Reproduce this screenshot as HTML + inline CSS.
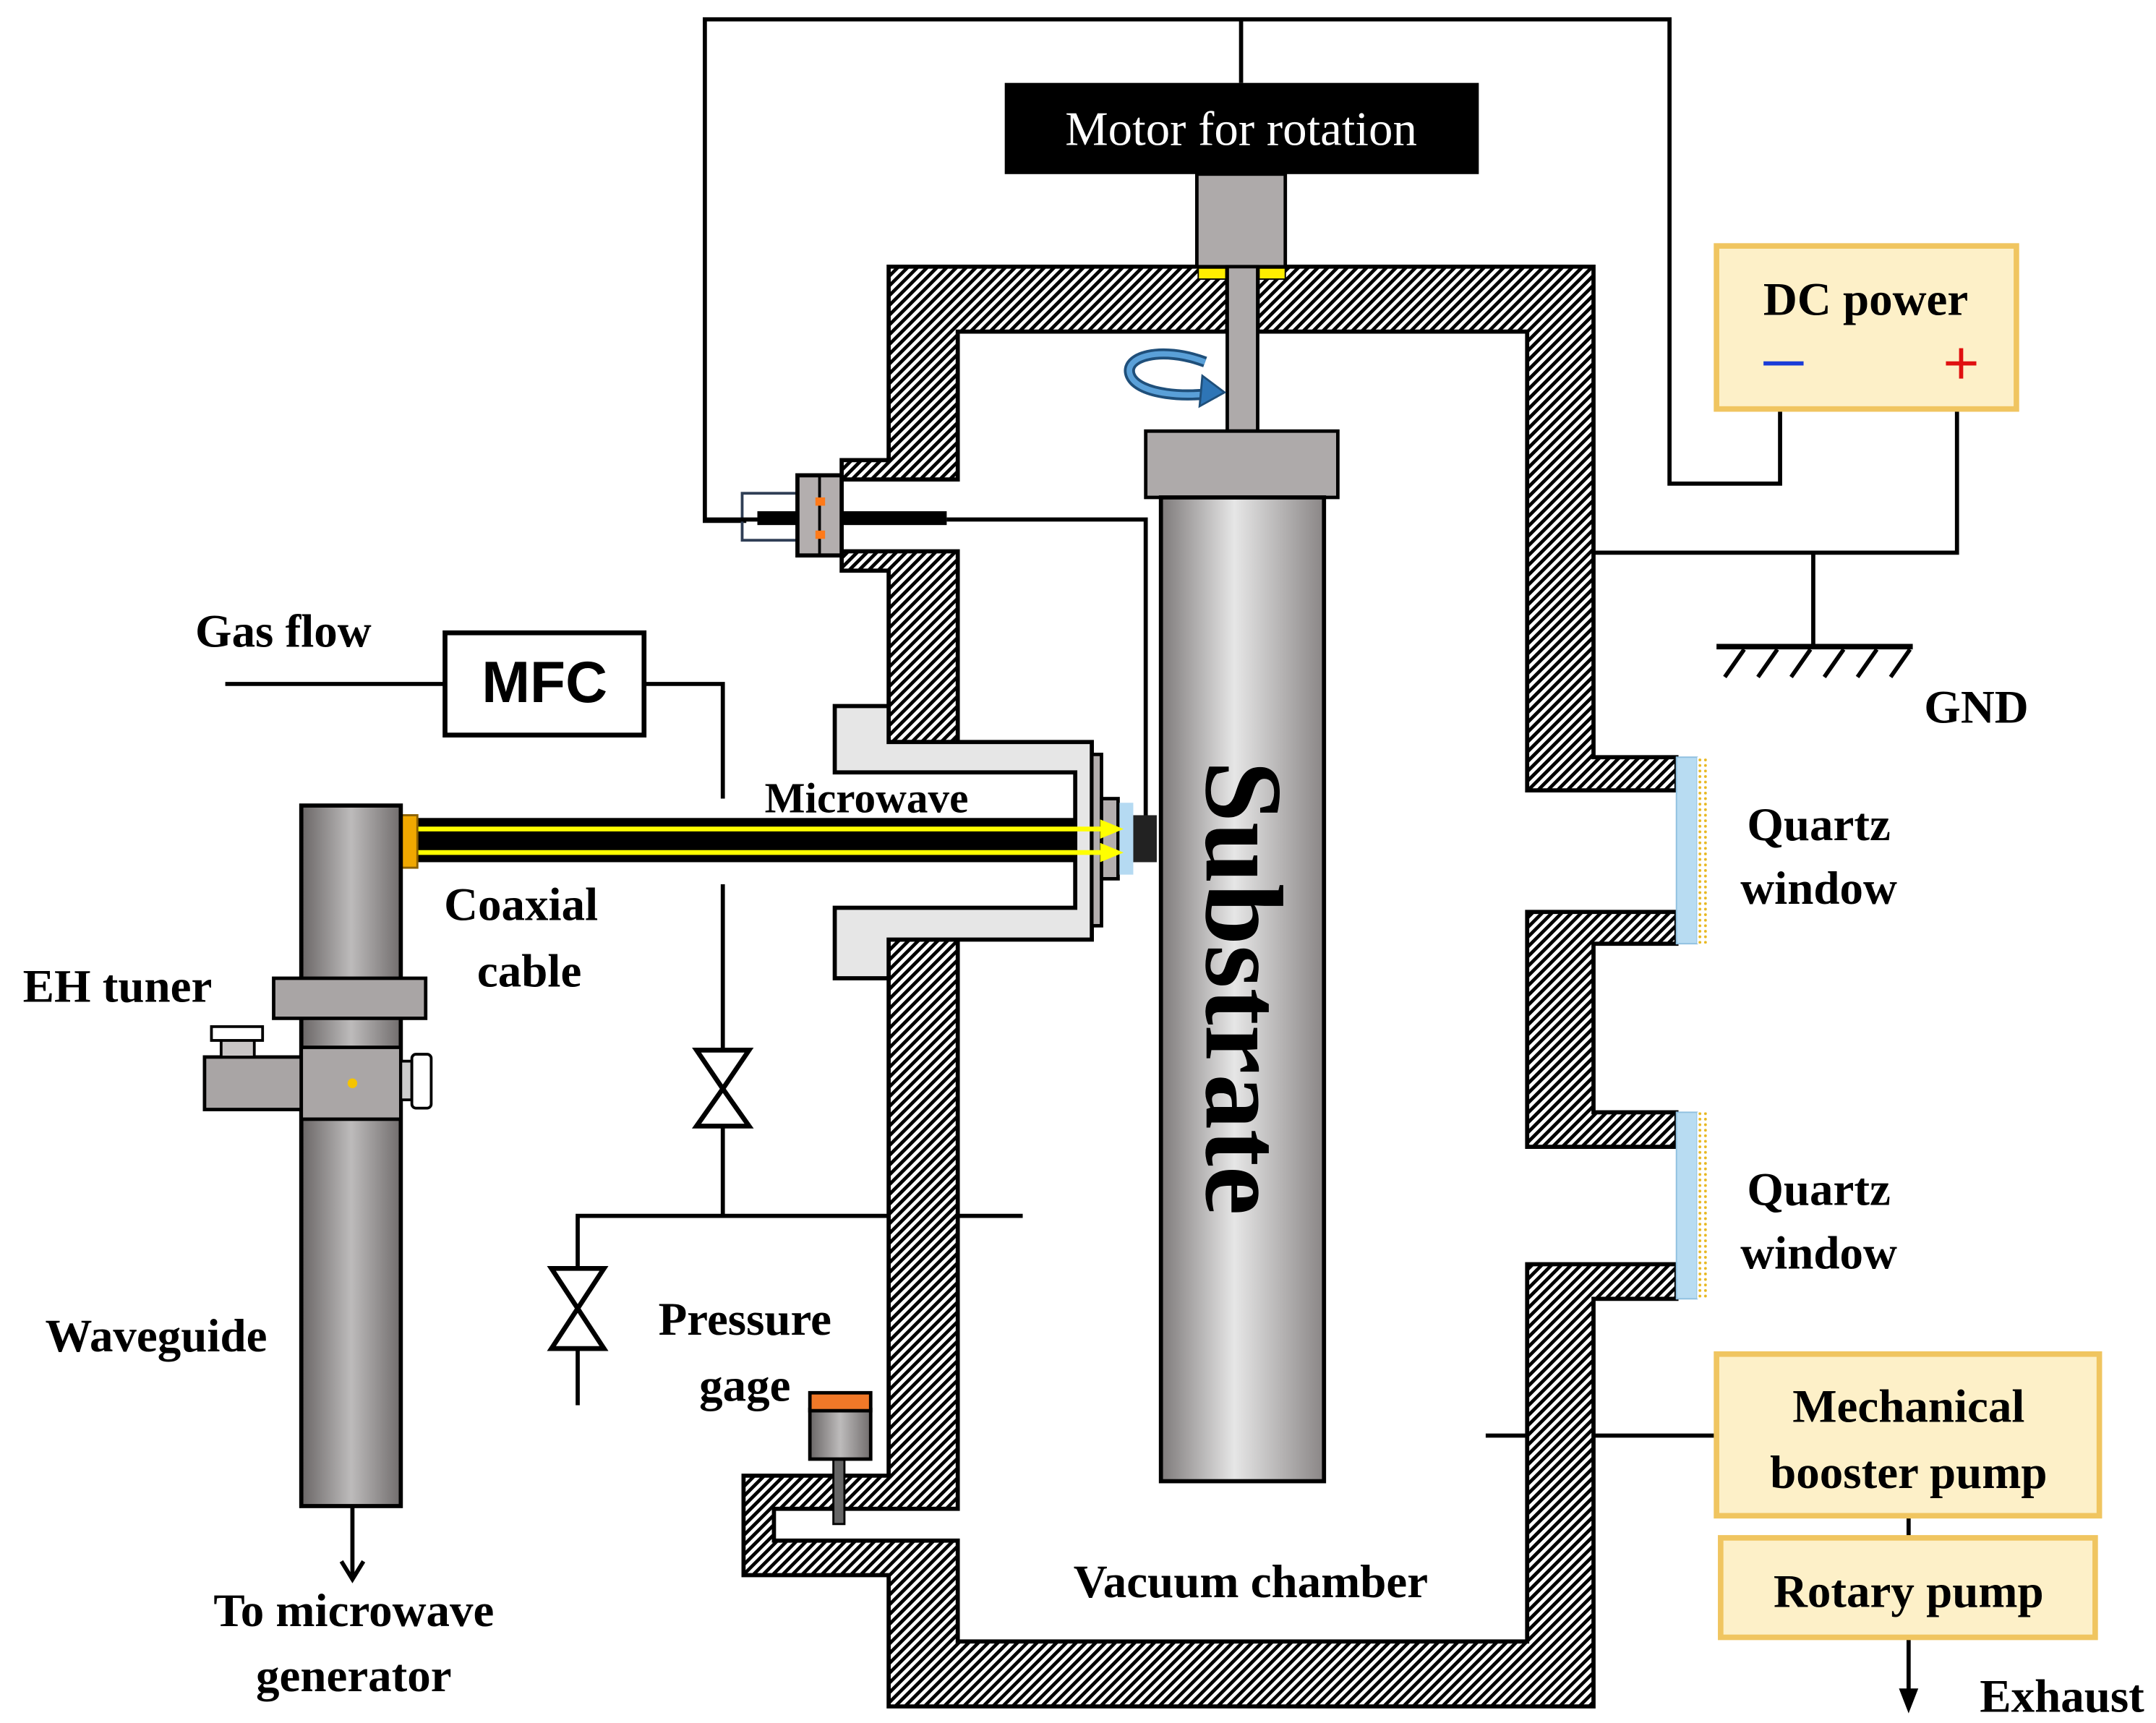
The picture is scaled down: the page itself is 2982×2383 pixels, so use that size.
<!DOCTYPE html>
<html><head><meta charset="utf-8"><style>
html,body{margin:0;padding:0;background:#fff;}
svg{display:block;}
text{font-family:"Liberation Serif",serif;font-weight:bold;fill:#000;}
</style></head><body>
<svg width="2982" height="2383" viewBox="0 0 1560 1247" preserveAspectRatio="none" xmlns="http://www.w3.org/2000/svg">
<defs>
<pattern id="h" patternUnits="userSpaceOnUse" width="5" height="5" patternTransform="rotate(45)">
<rect width="5" height="5" fill="#fff"/><rect x="0" y="0" width="2.5" height="5" fill="#000"/>
</pattern>
<linearGradient id="sub" x1="0" x2="1" y1="0" y2="0">
<stop offset="0" stop-color="#7e7a7a"/><stop offset="0.45" stop-color="#e6e6e6"/><stop offset="1" stop-color="#8a8686"/>
</linearGradient>
<linearGradient id="wg" x1="0" x2="1" y1="0" y2="0">
<stop offset="0" stop-color="#6a6666"/><stop offset="0.5" stop-color="#bdbbbb"/><stop offset="1" stop-color="#716d6d"/>
</linearGradient>
<pattern id="dots" patternUnits="userSpaceOnUse" width="4" height="4"><rect width="4" height="4" fill="#fff"/><circle cx="2" cy="2" r="1" fill="#e8b820"/></pattern>
</defs>

<g stroke="#000" stroke-width="3" fill="none">
<polyline points="540,377 510,377 510,14 1208,14 1208,350 1288,350 1288,296"/>
<line x1="898" y1="14" x2="898" y2="60"/>
<polyline points="1416,296 1416,400 1153,400"/>
<line x1="1312" y1="400" x2="1312" y2="468"/>
<line x1="1242" y1="468" x2="1384" y2="468" stroke-width="4"/>
<g stroke-width="3"><line x1="1262" y1="470" x2="1248" y2="490"/><line x1="1286" y1="470" x2="1272" y2="490"/><line x1="1310" y1="470" x2="1296" y2="490"/><line x1="1334" y1="470" x2="1320" y2="490"/><line x1="1358" y1="470" x2="1344" y2="490"/><line x1="1382" y1="470" x2="1368" y2="490"/></g>
<polyline points="685,376 829,376 829,592"/>
<line x1="163" y1="495" x2="322" y2="495"/>
<polyline points="466,495 523,495 523,578"/>
<line x1="523" y1="640" x2="523" y2="880"/>
<polyline points="418,1017 418,880 740,880"/>
<line x1="1075" y1="1039" x2="1242" y2="1039"/>
<line x1="1381" y1="1097" x2="1381" y2="1113"/>
<line x1="1381" y1="1185" x2="1381" y2="1232"/>
<line x1="255" y1="1090" x2="255" y2="1140"/>
</g>
<polygon points="1374,1222 1388,1222 1381,1240" fill="#000"/>
<polyline points="247,1130 255,1143 263,1130" stroke="#000" stroke-width="3" fill="none"/>

<g stroke="#000" stroke-width="3.5" fill="#fff" stroke-linejoin="miter">
<polygon points="504,760 542,760 523,788"/><polygon points="504,815 542,815 523,788"/>
<polygon points="399,918 437,918 418,947"/><polygon points="399,976 437,976 418,947"/>
</g>

<g fill="url(#h)" stroke="#000" stroke-width="3">
<polygon points="888,193 643,193 643,333 609,333 609,347 693,347 693,240 888,240"/>
<polygon points="609,399 693,399 693,537 643,537 643,413 609,413"/>
<polygon points="910,193 1153,193 1153,548 1213,548 1213,572 1105,572 1105,240 910,240"/>
<polygon points="1105,660 1213,660 1213,683 1153,683 1153,805 1213,805 1213,830 1105,830"/>
<polygon points="643,680 693,680 693,1092 560,1092 560,1115 693,1115 693,1188 1105,1188 1105,915 1213,915 1213,940 1153,940 1153,1235 643,1235 643,1140 538,1140 538,1068 643,1068"/>
</g>

<rect x="1213" y="548" width="15" height="135" fill="#b8dcf2" stroke="#8fc0e0" stroke-width="1"/>
<rect x="1228" y="548" width="8" height="135" fill="url(#dots)"/>
<rect x="1213" y="805" width="15" height="135" fill="#b8dcf2" stroke="#8fc0e0" stroke-width="1"/>
<rect x="1228" y="805" width="8" height="135" fill="url(#dots)"/>

<rect x="537" y="357" width="40" height="34" fill="none" stroke="#2f3e55" stroke-width="2"/>
<rect x="577" y="344" width="32" height="58" fill="#b3aeae" stroke="#000" stroke-width="3"/>
<line x1="593" y1="344" x2="593" y2="402" stroke="#000" stroke-width="2"/>
<rect x="590" y="360" width="7" height="6" fill="#ff7a1a"/><rect x="590" y="384" width="7" height="6" fill="#ff7a1a"/>
<rect x="548" y="370" width="29" height="10" fill="#000"/>
<rect x="609" y="370" width="76" height="10" fill="#000"/>
<line x1="510" y1="376" x2="548" y2="376" stroke="#000" stroke-width="3"/>

<polygon points="604,511 643,511 643,537 790,537 790,680 643,680 643,708 604,708 604,657 778,657 778,559 604,559" fill="#e6e6e6" stroke="#000" stroke-width="3"/>
<rect x="790" y="546" width="7" height="124" fill="#b3aeae" stroke="#000" stroke-width="2.5"/>
<rect x="797" y="578" width="12" height="58" fill="#b3aeae" stroke="#000" stroke-width="2.5"/>
<rect x="810" y="581" width="10" height="52" fill="#b5daf2"/>
<rect x="820" y="590" width="17" height="34" fill="#222"/>

<rect x="300" y="592" width="478" height="32" fill="#000"/>
<g stroke="#ffff00" stroke-width="3.5"><line x1="302" y1="600" x2="800" y2="600"/><line x1="302" y1="617" x2="800" y2="617"/></g>
<polygon points="796,593 813,600 796,607" fill="#ffff00"/><polygon points="796,610 813,617 796,624" fill="#ffff00"/>
<rect x="290" y="590" width="12" height="38" fill="#f0a800" stroke="#8a6000" stroke-width="1.5"/>

<rect x="218" y="583" width="72" height="507" fill="url(#wg)" stroke="#000" stroke-width="3"/>
<rect x="198" y="708" width="110" height="29" fill="#a9a5a5" stroke="#000" stroke-width="2.5"/>
<rect x="148" y="765" width="70" height="38" fill="#a9a5a5" stroke="#000" stroke-width="2.5"/>
<rect x="160" y="752" width="24" height="13" fill="#c9c6c6" stroke="#000" stroke-width="2"/>
<rect x="153" y="743" width="37" height="10" fill="#fff" stroke="#000" stroke-width="2"/>
<rect x="218" y="758" width="72" height="52" fill="#aaa6a6" stroke="#000" stroke-width="2.5"/>
<rect x="290" y="768" width="8" height="28" fill="#ccc" stroke="#000" stroke-width="2"/>
<rect x="298" y="763" width="14" height="39" rx="3" fill="#fff" stroke="#000" stroke-width="2"/>
<circle cx="255" cy="784" r="3.5" fill="#f5c400"/>

<rect x="322" y="458" width="144" height="74" fill="#fff" stroke="#000" stroke-width="3.5"/>
<text x="394" y="508" text-anchor="middle" font-size="42" style="font-family:'Liberation Sans',sans-serif">MFC</text>

<rect x="603" y="1055" width="8" height="48" fill="#666" stroke="#000" stroke-width="1.5"/>
<rect x="586" y="1020" width="44" height="36" fill="url(#wg)" stroke="#000" stroke-width="2.5"/>
<rect x="586" y="1008" width="44" height="13" fill="#f07828" stroke="#000" stroke-width="2.5"/>

<rect x="727" y="60" width="343" height="66" fill="#000"/>
<text x="898" y="105" text-anchor="middle" font-size="35" style="fill:#fff;font-weight:normal">Motor for rotation</text>
<rect x="866" y="126" width="64" height="67" fill="#aeaaaa" stroke="#000" stroke-width="2.5"/>
<rect x="888" y="193" width="22" height="119" fill="#aeaaaa" stroke="#000" stroke-width="2.5"/>
<rect x="867" y="194" width="20" height="8" fill="#ffee00" stroke="#000" stroke-width="1"/>
<rect x="911" y="194" width="19" height="8" fill="#ffee00" stroke="#000" stroke-width="1"/>
<path d="M872,262 C840,250 812,258 818,272 C824,286 860,288 880,284" fill="none" stroke="#1f4f7a" stroke-width="8"/>
<path d="M872,262 C840,250 812,258 818,272 C824,286 860,288 880,284" fill="none" stroke="#5aa0d8" stroke-width="4"/>
<polygon points="870,272 886,284 868,294" fill="#2e75b6" stroke="#1f4f7a" stroke-width="1.5"/>

<rect x="829" y="312" width="139" height="48" fill="#aeaaaa" stroke="#000" stroke-width="2.5"/>
<rect x="840" y="360" width="118" height="712" fill="url(#sub)" stroke="#000" stroke-width="3"/>
<text transform="translate(873,715) rotate(90)" text-anchor="middle" font-size="80">Substrate</text>

<rect x="1242" y="178" width="217" height="118" fill="#fdf0c8" stroke="#f0c560" stroke-width="4"/>
<text x="1350" y="228" text-anchor="middle" font-size="34">DC power</text>
<line x1="1276" y1="263" x2="1305" y2="263" stroke="#1a3cd8" stroke-width="3"/>
<g stroke="#e01010" stroke-width="3"><line x1="1408" y1="263" x2="1430" y2="263"/><line x1="1419" y1="252" x2="1419" y2="274"/></g>

<rect x="1242" y="980" width="277" height="117" fill="#fdf0c8" stroke="#f0c560" stroke-width="4"/>
<text x="1381" y="1029" text-anchor="middle" font-size="34">Mechanical</text>
<text x="1381" y="1077" text-anchor="middle" font-size="34">booster pump</text>
<rect x="1245" y="1113" width="271" height="72" fill="#fdf0c8" stroke="#f0c560" stroke-width="4"/>
<text x="1381" y="1163" text-anchor="middle" font-size="34">Rotary pump</text>

<g font-size="34">
<text x="205" y="468" text-anchor="middle">Gas flow</text>
<text x="627" y="588" text-anchor="middle" font-size="31">Microwave</text>
<text x="377" y="666" text-anchor="middle">Coaxial</text>
<text x="383" y="714" text-anchor="middle">cable</text>
<text x="85" y="725" text-anchor="middle">EH tuner</text>
<text x="113" y="978" text-anchor="middle">Waveguide</text>
<text x="539" y="966" text-anchor="middle">Pressure</text>
<text x="539" y="1014" text-anchor="middle">gage</text>
<text x="256" y="1177" text-anchor="middle">To microwave</text>
<text x="256" y="1224" text-anchor="middle">generator</text>
<text x="905" y="1156" text-anchor="middle">Vacuum chamber</text>
<text x="1430" y="523" text-anchor="middle">GND</text>
<text x="1316" y="608" text-anchor="middle">Quartz</text>
<text x="1316" y="654" text-anchor="middle">window</text>
<text x="1316" y="872" text-anchor="middle">Quartz</text>
<text x="1316" y="918" text-anchor="middle">window</text>
<text x="1492" y="1239" text-anchor="middle">Exhaust</text>
</g>
</svg>
</body></html>
